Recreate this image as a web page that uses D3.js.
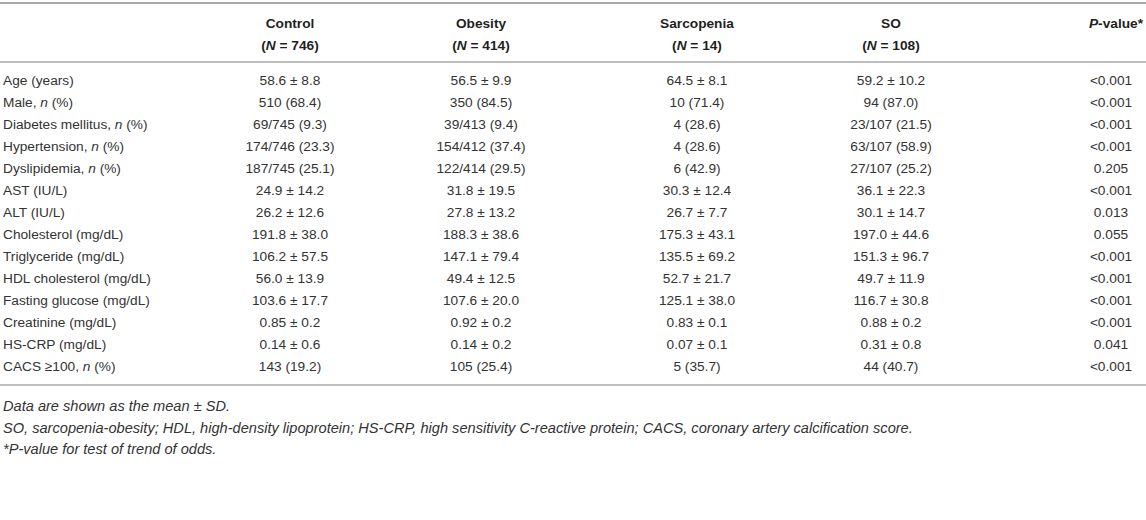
<!DOCTYPE html>
<html>
<head>
<meta charset="utf-8">
<script src="https://cdn.jsdelivr.net/npm/d3@7/dist/d3.min.js"></script>
<style>
  body { margin: 0; background: #fff; }
  svg text { font-family: "Liberation Sans", Arial, Helvetica, sans-serif; font-size: 13.7px; fill: #333; }
  .head { font-weight: bold; fill: #1f1f1f; }
  .note { font-style: italic; font-size: 14.6px; }
  .rule { stroke: #a8a8a8; }
</style>
</head>
<body>
<script>
  // _x_ marks an italic run
  const groups = ["Control", "Obesity", "Sarcopenia", "SO"];
  const groupN = [746, 414, 14, 108];

  const rowLabels = [
    "Age (years)",
    "Male, _n_ (%)",
    "Diabetes mellitus, _n_ (%)",
    "Hypertension, _n_ (%)",
    "Dyslipidemia, _n_ (%)",
    "AST (IU/L)",
    "ALT (IU/L)",
    "Cholesterol (mg/dL)",
    "Triglyceride (mg/dL)",
    "HDL cholesterol (mg/dL)",
    "Fasting glucose (mg/dL)",
    "Creatinine (mg/dL)",
    "HS-CRP (mg/dL)",
    "CACS \u2265100, _n_ (%)"
  ];

  const control = ["58.6 ± 8.8", "510 (68.4)", "69/745 (9.3)", "174/746 (23.3)", "187/745 (25.1)",
    "24.9 ± 14.2", "26.2 ± 12.6", "191.8 ± 38.0", "106.2 ± 57.5", "56.0 ± 13.9",
    "103.6 ± 17.7", "0.85 ± 0.2", "0.14 ± 0.6", "143 (19.2)"];
  const obesity = ["56.5 ± 9.9", "350 (84.5)", "39/413 (9.4)", "154/412 (37.4)", "122/414 (29.5)",
    "31.8 ± 19.5", "27.8 ± 13.2", "188.3 ± 38.6", "147.1 ± 79.4", "49.4 ± 12.5",
    "107.6 ± 20.0", "0.92 ± 0.2", "0.14 ± 0.2", "105 (25.4)"];
  const sarcopenia = ["64.5 ± 8.1", "10 (71.4)", "4 (28.6)", "4 (28.6)", "6 (42.9)",
    "30.3 ± 12.4", "26.7 ± 7.7", "175.3 ± 43.1", "135.5 ± 69.2", "52.7 ± 21.7",
    "125.1 ± 38.0", "0.83 ± 0.1", "0.07 ± 0.1", "5 (35.7)"];
  const so = ["59.2 ± 10.2", "94 (87.0)", "23/107 (21.5)", "63/107 (58.9)", "27/107 (25.2)",
    "36.1 ± 22.3", "30.1 ± 14.7", "197.0 ± 44.6", "151.3 ± 96.7", "49.7 ± 11.9",
    "116.7 ± 30.8", "0.88 ± 0.2", "0.31 ± 0.8", "44 (40.7)"];
  const pValues = ["<0.001", "<0.001", "<0.001", "<0.001", "0.205", "<0.001", "0.013",
    "0.055", "<0.001", "<0.001", "<0.001", "<0.001", "0.041", "<0.001"];

  const footnotes = [
    "Data are shown as the mean ± SD.",
    "SO, sarcopenia-obesity; HDL, high-density lipoprotein; HS-CRP, high sensitivity C-reactive protein; CACS, coronary artery calcification score.",
    "*P-value for test of trend of odds."
  ];

  const w = 1146;
  const h = 520;

  const svg = d3.select("body")
                .append("svg")
                .attr("width", w)
                .attr("height", h);

  const columns = [...groups, "P"];
  const x = d3.scaleOrdinal()
              .domain(columns)
              .range([290, 481, 697, 891, 1111]);

  const y = d3.scalePoint()
              .domain(rowLabels)
              .range([80, 366]);

  // text with _italic_ runs
  function rich(sel, str) {
    str.split("_").forEach((part, i) => {
      if (!part) return;
      sel.append("tspan")
         .attr("font-style", i % 2 ? "italic" : null)
         .text(part);
    });
  }

  // rules
  [3, 62, 385].forEach((ry, i) => {
    svg.append("line")
       .attr("class", "rule")
       .attr("x1", 0).attr("x2", w)
       .attr("y1", ry).attr("y2", ry)
       .attr("stroke-width", i === 0 ? 2 : 1.5);
  });

  // header
  groups.forEach((g, i) => {
    svg.append("text").attr("class", "head")
       .attr("x", x(g)).attr("y", 27.5)
       .attr("text-anchor", "middle").text(g);
    svg.append("text").attr("class", "head")
       .attr("x", x(g)).attr("y", 50)
       .attr("text-anchor", "middle")
       .call(rich, "(_N_ = " + groupN[i] + ")");
  });
  svg.append("text").attr("class", "head")
     .attr("x", 1143).attr("y", 27.5)
     .attr("text-anchor", "end")
     .call(rich, "_P_-value*");

  // body rows
  const rows = svg.selectAll("g.row")
                  .data(rowLabels)
                  .enter()
                  .append("g")
                  .attr("class", "row")
                  .attr("transform", d => `translate(0,${y(d) + 4.8})`);

  rows.append("text")
      .attr("x", 3)
      .each(function(d) { rich(d3.select(this), d); });

  const cols = [control, obesity, sarcopenia, so, pValues];
  cols.forEach((vals, ci) => {
    rows.append("text")
        .attr("x", x(columns[ci]))
        .attr("text-anchor", "middle")
        .text((d, i) => vals[i]);
  });

  // footnotes
  svg.selectAll("text.note")
     .data(footnotes)
     .enter()
     .append("text")
     .attr("class", "note")
     .attr("x", 3)
     .attr("y", (d, i) => 411 + i * 21.5)
     .text(d => d);
</script>
</body>
</html>
